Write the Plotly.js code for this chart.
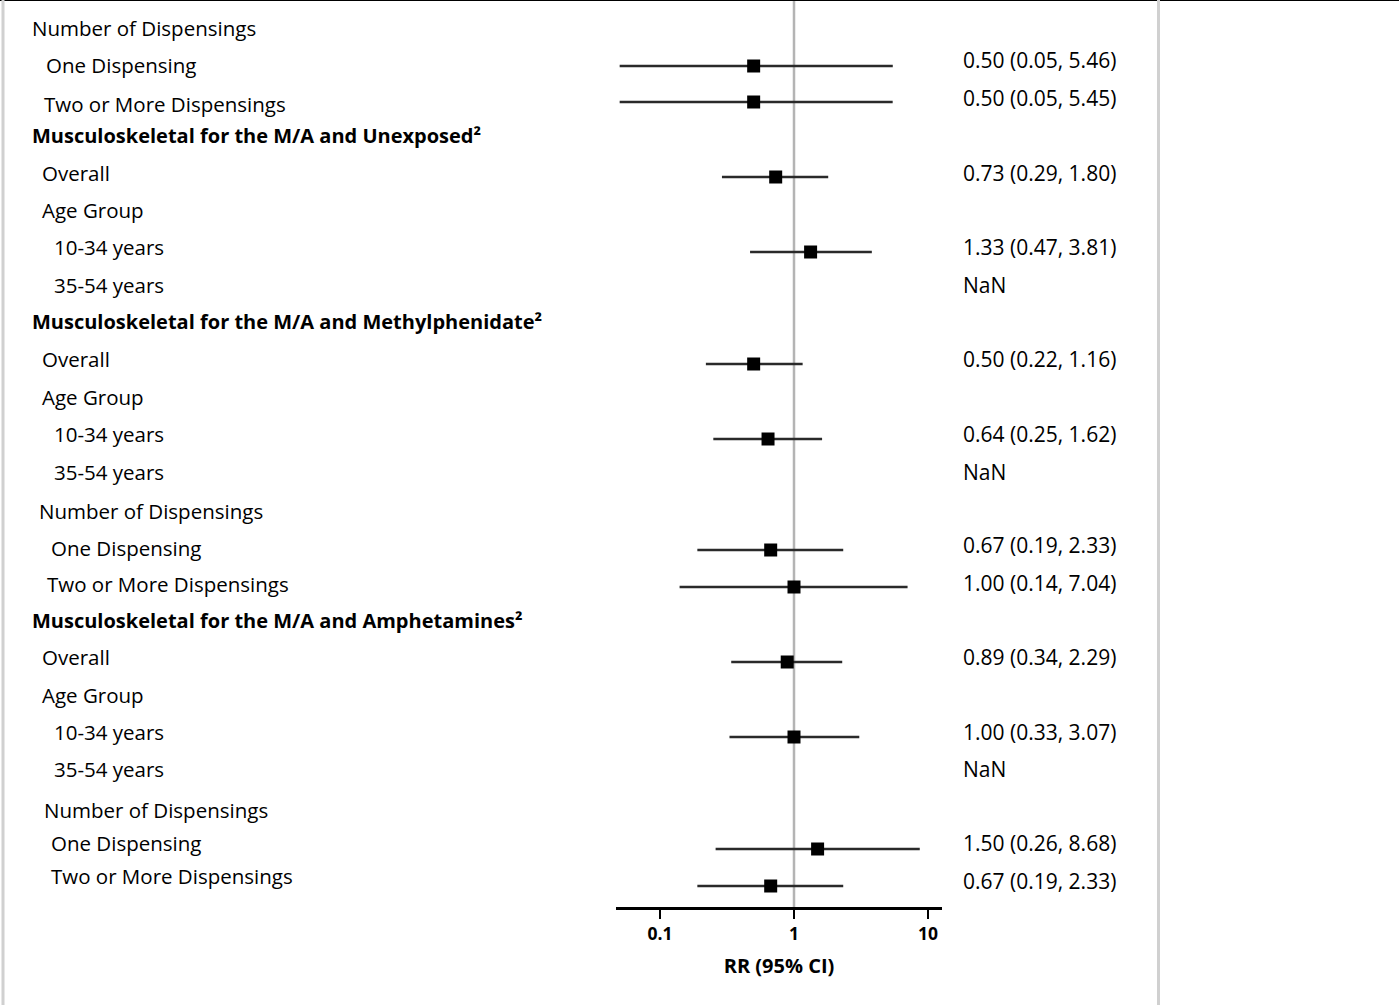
<!DOCTYPE html>
<html>
<head>
<meta charset="utf-8">
<script src="https://cdn.plot.ly/plotly-3.0.1.min.js"></script>
<style>html,body{margin:0;padding:0;background:#fff;}#chart{width:1399px;height:1005px;}</style>
</head>
<body>
<div id="chart"></div>
<script>
// ---- data ----
var rowLabels = [
  "Number of Dispensings",
  "One Dispensing",
  "Two or More Dispensings",
  "Musculoskeletal for the M/A and Unexposed²",
  "Overall",
  "Age Group",
  "10-34 years",
  "35-54 years",
  "Musculoskeletal for the M/A and Methylphenidate²",
  "Overall",
  "Age Group",
  "10-34 years",
  "35-54 years",
  "Number of Dispensings",
  "One Dispensing",
  "Two or More Dispensings",
  "Musculoskeletal for the M/A and Amphetamines²",
  "Overall",
  "Age Group",
  "10-34 years",
  "35-54 years",
  "Number of Dispensings",
  "One Dispensing",
  "Two or More Dispensings"
];
var isHeader = [false,false,false,true,false,false,false,false,true,false,false,false,false,false,false,false,true,false,false,false,false,false,false,false];
var rrEst   = [null,0.50,0.50,null,0.73,null,1.33,null,null,0.50,null,0.64,null,null,0.67,1.00,null,0.89,null,1.00,null,null,1.50,0.67];
var rrLower = [null,0.05,0.05,null,0.29,null,0.47,null,null,0.22,null,0.25,null,null,0.19,0.14,null,0.34,null,0.33,null,null,0.26,0.19];
var rrUpper = [null,5.46,5.45,null,1.80,null,3.81,null,null,1.16,null,1.62,null,null,2.33,7.04,null,2.29,null,3.07,null,null,8.68,2.33];
var ciText  = ["","0.50 (0.05, 5.46)","0.50 (0.05, 5.45)","","0.73 (0.29, 1.80)","","1.33 (0.47, 3.81)","NaN","","0.50 (0.22, 1.16)","","0.64 (0.25, 1.62)","NaN","","0.67 (0.19, 2.33)","1.00 (0.14, 7.04)","","0.89 (0.34, 2.29)","","1.00 (0.33, 3.07)","NaN","","1.50 (0.26, 8.68)","0.67 (0.19, 2.33)"];
var tickVals = [0.1, 1, 10];
var tickText = ["0.1", "1", "10"];
var xTitle = "RR (95% CI)";

// ---- layout (positions, in pixels of the 1399x1005 page) ----
var W = 1399, H = 1005, axisY = 907;
var labelY  = [28,65,104,135,173,210,247,285,321,359,397,434,472,511,548,584,620,657,695,732,769,810,843,876];
var markerY = [null,66,102,null,177,null,252,null,null,364,null,439,null,null,550,587,null,662,null,737,null,null,849,886];
var ciY     = [null,60,98,null,173,null,247,285,null,359,null,434,472,null,545,583,null,657,null,732,769,null,843,881];
var labelX  = [30,44,42,30,40,40,52,52,30,40,40,52,52,37,49,45,30,40,40,52,52,42,49,49];

var FONT = "Open Sans, Noto Sans, sans-serif";

var plusErr = rrEst.map(function(e,i){ return e==null?null:rrUpper[i]-e; });
var minusErr = rrEst.map(function(e,i){ return e==null?null:e-rrLower[i]; });

var trace = {
  type: 'scatter', mode: 'markers',
  x: rrEst, y: markerY,
  marker: {symbol: 'square', size: 13, color: '#000'},
  error_x: {type: 'data', symmetric: false, array: plusErr, arrayminus: minusErr,
            color: '#2a2a2a', thickness: 2.5, width: 0},
  hoverinfo: 'skip', showlegend: false, cliponaxis: false
};

var annotations = [];
rowLabels.forEach(function(t,i){
  annotations.push({
    xref: 'paper', yref: 'y', x: labelX[i]/W, y: labelY[i],
    xanchor: 'left', yanchor: 'middle', showarrow: false,
    text: isHeader[i] ? '<b>'+t+'</b>' : t,
    font: {family: FONT, size: isHeader[i] ? 20 : 20.5, color: '#000'}
  });
});
ciText.forEach(function(t,i){
  if (!t) return;
  annotations.push({
    xref: 'paper', yref: 'y', x: 961/W, y: ciY[i],
    xanchor: 'left', yanchor: 'middle', showarrow: false,
    text: t, font: {family: FONT, size: 21, color: '#000'}
  });
});

var x0 = 616, x1 = 942, px01 = 660, px1 = 794;
var perDecade = px1 - px01;
var logMin = -1 - (px01 - x0)/perDecade;
var logMax = 0 + (x1 - px1)/perDecade;

var layout = {
  width: W, height: H,
  margin: {l: 0, r: 0, t: 0, b: 0, pad: 0},
  paper_bgcolor: '#fff', plot_bgcolor: '#fff',
  showlegend: false,
  xaxis: {
    type: 'log', range: [logMin, logMax],
    domain: [x0/W, x1/W],
    tickvals: tickVals, ticktext: tickText,
    showline: true, linecolor: '#000', linewidth: 2.5,
    ticks: 'outside', ticklen: 9, tickwidth: 2.5, tickcolor: '#000',
    showgrid: false, zeroline: false, automargin: false,
    tickfont: {family: FONT, size: 17.5, color: '#000', weight: 'bold'},
    title: {text: '<b>'+xTitle+'</b>', font: {family: FONT, size: 20, color: '#000'}, standoff: 16}
  },
  yaxis: {
    range: [axisY, 0], domain: [(H-axisY)/H, 1],
    visible: false, showgrid: false, zeroline: false, automargin: false
  },
  shapes: [
    {type: 'line', xref: 'x', yref: 'y', x0: 1, x1: 1, y0: 0, y1: axisY,
     line: {color: '#b4b4b4', width: 2.5}, layer: 'below'},
    {type: 'line', xref: 'paper', yref: 'paper', x0: 0, x1: 1, y0: 1, y1: 1,
     line: {color: '#000', width: 2}},
    {type: 'line', xref: 'paper', yref: 'paper', x0: 3/W, x1: 3/W, y0: 0, y1: 1,
     line: {color: '#d0d0d0', width: 3}},
    {type: 'line', xref: 'paper', yref: 'paper', x0: 1158.5/W, x1: 1158.5/W, y0: 0, y1: 1,
     line: {color: '#d0d0d0', width: 3}}
  ],
  annotations: annotations
};

Plotly.newPlot('chart', [trace], layout, {staticPlot: true, displayModeBar: false});
</script>
</body>
</html>
